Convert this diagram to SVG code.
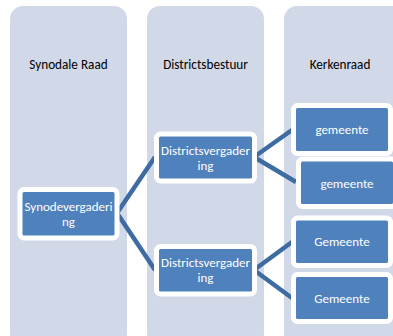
<svg xmlns="http://www.w3.org/2000/svg" width="393" height="336" viewBox="0 0 393 336">
<style>
.col{fill:#d1d8e8}
.hd{font-family:Calibri,"Carlito","Liberation Sans",sans-serif;font-size:13.2px;fill:#000;text-anchor:middle}
.nd{fill:#4f81bd;stroke:#fff;stroke-width:5}
.tx{font-family:Calibri,"Carlito","Liberation Sans",sans-serif;font-size:13px;fill:#fff;text-anchor:middle}
.cn{fill:none;stroke:#3e6ba1;stroke-width:4.5;stroke-linejoin:miter}
</style>
<rect width="393" height="336" fill="#fff"/>
<g id="col-synodale">
<rect class="col" x="10" y="6" width="117" height="340" rx="13"/>
<text class="hd" x="68.5" y="69">Synodale Raad</text>
</g>
<g id="col-districts">
<rect class="col" x="147" y="6" width="117" height="340" rx="13"/>
<text class="hd" x="205.5" y="69">Districtsbestuur</text>
</g>
<g id="col-kerkenraad">
<rect class="col" x="284" y="6" width="130" height="340" rx="13"/>
<text class="hd" x="340" y="69">Kerkenraad</text>
</g>
<g id="connectors">
<polyline class="cn" points="155,157 117,213 155,270"/>
<polyline class="cn" points="292,130 254,157 296,182"/>
<polyline class="cn" points="292,242 254,270 292,298"/>
</g>
<g id="synodevergadering">
<rect class="nd" x="20" y="189.5" width="97" height="48.5" rx="4"/>
<text class="tx" x="68.5" y="211">Synodevergaderi</text>
<text class="tx" x="68.5" y="226">ng</text>
</g>
<g id="districtsvergadering-1">
<rect class="nd" x="156.5" y="134" width="98" height="47" rx="4"/>
<text class="tx" x="205.5" y="155">Districtsvergader</text>
<text class="tx" x="205.5" y="169.5">ing</text>
</g>
<g id="districtsvergadering-2">
<rect class="nd" x="156.5" y="246.5" width="98" height="47.5" rx="4"/>
<text class="tx" x="205.5" y="267">Districtsvergader</text>
<text class="tx" x="205.5" y="281.5">ing</text>
</g>
<g id="gemeente-1">
<rect class="nd" x="293.5" y="105.5" width="97" height="48" rx="4"/>
<text class="tx" x="342" y="134">gemeente</text>
</g>
<g id="gemeente-2">
<rect class="nd" x="298.5" y="159" width="97" height="47.5" rx="4"/>
<text class="tx" x="347" y="187.5">gemeente</text>
</g>
<g id="gemeente-3">
<rect class="nd" x="293.5" y="218" width="97" height="47.5" rx="4"/>
<text class="tx" x="342" y="246">Gemeente</text>
</g>
<g id="gemeente-4">
<rect class="nd" x="293.5" y="274.5" width="97" height="47" rx="4"/>
<text class="tx" x="342" y="302.5">Gemeente</text>
</g>
</svg>
